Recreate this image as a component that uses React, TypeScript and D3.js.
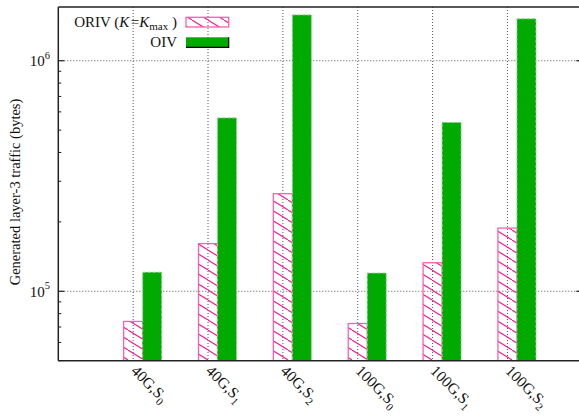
import React from "react";
import * as d3 from "d3";

// Link speed and scenario for each group of bars
const linkSpeeds = ["40G", "40G", "40G", "100G", "100G", "100G"];
const scenarios = ["0", "1", "2", "0", "1", "2"];

// Generated layer-3 traffic in bytes
const orivBytes = [74000, 161000, 265000, 72500, 133000, 188000];
const oivBytes = [121000, 565000, 1580000, 120000, 540000, 1520000];

const yMajorTicks = [1e5, 1e6];

const W = 579;
const H = 416;
const M = { left: 58.3, top: 7, bottom: 360.7, right: 582.3 };

const PINK = "#ff1493";
const GREEN = "#00aa00";
const FONT = "'Liberation Serif', 'DejaVu Serif', serif";

export default function App() {
  const x = d3.scaleLinear().domain([0, 7]).range([M.left, M.right]);
  const y = d3.scaleLog().domain([5e4, 1.71e6]).range([M.bottom, M.top]);
  const barW = x(0.254) - x(0);

  // minor ticks: 2..9 times each decade, inside the domain
  const minor: number[] = [];
  for (const dec of [1e4, 1e5, 1e6]) {
    for (let k = 2; k <= 9; k++) {
      const v = k * dec;
      if (v >= 5e4 && v <= 1.71e6) minor.push(v);
    }
  }

  const idx = d3.range(linkSpeeds.length);

  return (
    <svg width={W} height={H} style={{ position: "absolute", left: 0, top: 0 }} fontFamily={FONT}>
      <defs>
        <pattern id="hatch" patternUnits="userSpaceOnUse" width={16} height={10}>
          <path d="M-2,-1.25 L18,11.25" stroke={PINK} strokeWidth={1.1} />
        </pattern>
        <clipPath id="plot">
          <rect x={M.left} y={M.top} width={M.right - M.left} height={M.bottom - M.top} />
        </clipPath>
      </defs>
      <rect width={W} height={H} fill="white" />

      {/* grid */}
      <g stroke="#555" strokeWidth={1} strokeDasharray="1,2" fill="none">
        {yMajorTicks.map((t) => (
          <line key={t} x1={M.left} x2={M.right} y1={y(t)} y2={y(t)} />
        ))}
        {idx.map((i) => (
          <line key={i} x1={x(i + 1)} x2={x(i + 1)} y1={M.top} y2={M.bottom} />
        ))}
      </g>

      {/* bars */}
      <g clipPath="url(#plot)">
        {idx.map((i) => {
          const cx = x(i + 1);
          return (
            <g key={i}>
              <rect
                x={cx - barW / 2}
                y={y(orivBytes[i])}
                width={barW}
                height={M.bottom - y(orivBytes[i])}
                fill="url(#hatch)"
                stroke="#ff5fae"
                strokeWidth={1.3}
              />
              <rect
                x={cx + barW / 2}
                y={y(oivBytes[i])}
                width={barW}
                height={M.bottom - y(oivBytes[i])}
                fill={GREEN}
                stroke="#9ccf9c"
                strokeWidth={1}
                strokeDasharray="3,2"
              />
            </g>
          );
        })}
      </g>

      {/* axes frame */}
      <g stroke="#222" fill="none">
        <line x1={M.left} x2={M.right} y1={M.top} y2={M.top} strokeWidth={1.5} />
        <line x1={M.left} x2={M.right} y1={M.bottom} y2={M.bottom} strokeWidth={1.5} />
        <line x1={M.left} x2={M.left} y1={M.top} y2={M.bottom} strokeWidth={1.5} />
        <line x1={M.right} x2={M.right} y1={M.top} y2={M.bottom} strokeWidth={1.5} />
        {yMajorTicks.map((t) => (
          <g key={t}>
            <line x1={M.left} x2={M.left + 6} y1={y(t)} y2={y(t)} strokeWidth={1.2} />
            <line x1={M.right} x2={M.right - 6} y1={y(t)} y2={y(t)} strokeWidth={1.2} />
          </g>
        ))}
        {minor.map((t) => (
          <g key={t}>
            <line x1={M.left} x2={M.left + 3} y1={y(t)} y2={y(t)} strokeWidth={1} />
            <line x1={M.right} x2={M.right - 3} y1={y(t)} y2={y(t)} strokeWidth={1} />
          </g>
        ))}
      </g>

      {/* y tick labels */}
      {yMajorTicks.map((t) => (
        <text key={t} x={50} y={y(t) + 5.5} textAnchor="end" fontSize={15} fill="#111">
          10
          <tspan fontSize={10.5} dy={-7.5}>
            {Math.round(Math.log10(t))}
          </tspan>
        </text>
      ))}

      {/* x tick labels */}
      {idx.map((i) => (
        <text
          key={i}
          transform={`translate(${x(i + 1) - 3},${M.bottom + 11}) rotate(45)`}
          fontSize={15.5}
          fill="#111"
        >
          {linkSpeeds[i]},S
          <tspan fontSize={11} dy={4}>
            {scenarios[i]}
          </tspan>
        </text>
      ))}

      {/* y axis title */}
      <text
        transform={`translate(20,192) rotate(-90)`}
        textAnchor="middle"
        fontSize={14.5}
        fill="#111"
      >
        Generated layer-3 traffic (bytes)
      </text>

      {/* legend */}
      <g>
        <text x={177} y={26.5} textAnchor="end" fontSize={15} fill="#111">
          ORIV (<tspan fontStyle="italic">K</tspan>
          <tspan dx={1.5}>=</tspan>
          <tspan fontStyle="italic">K</tspan>
          <tspan fontSize={11} dy={3}>max</tspan>
          <tspan dy={-3}> )</tspan>
        </text>
        <rect x={186} y={17.3} width={42.7} height={9.7} fill="url(#hatch)" stroke="#ff5fae" strokeWidth={1.3} />
        <text x={177} y={47} textAnchor="end" fontSize={15} fill="#111">
          OIV
        </text>
        <rect x={186} y={37.3} width={42.7} height={10} fill={GREEN} />
        <polyline points="186,47.3 228.7,47.3 228.7,37.3" fill="none" stroke="#000" strokeWidth={1.2} />
      </g>
    </svg>
  );
}
